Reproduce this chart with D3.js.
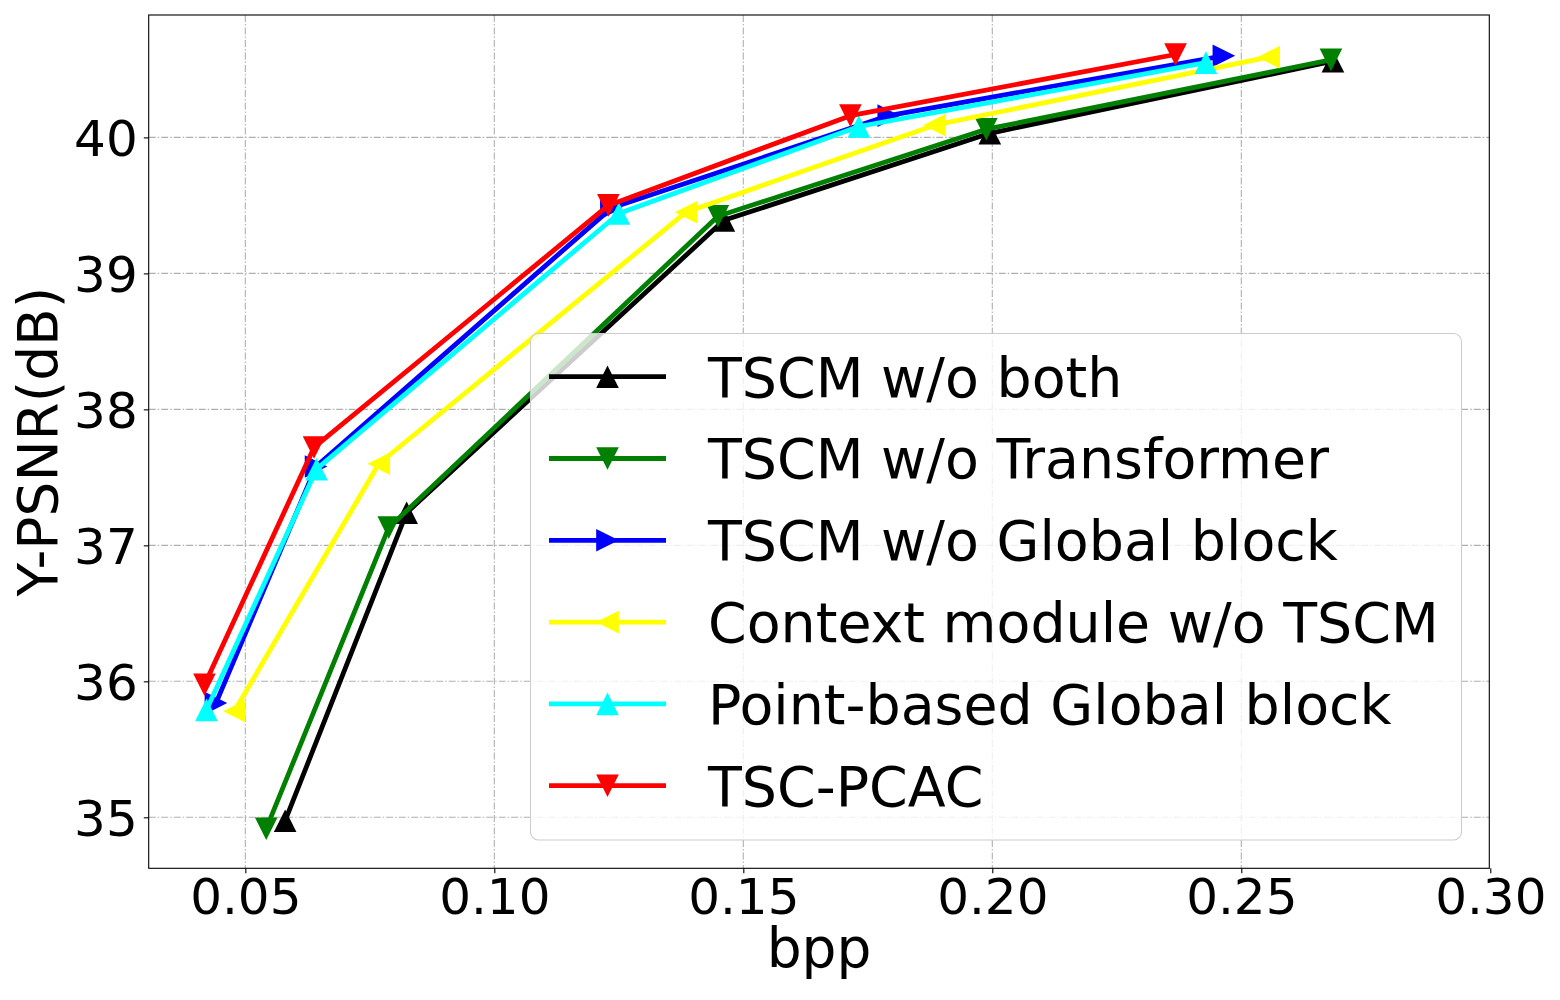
<!DOCTYPE html>
<html>
<head>
<meta charset="utf-8">
<script src="https://cdn.jsdelivr.net/npm/d3@7"></script>
<style>
  html, body { margin: 0; padding: 0; background: #fff; }
  svg { display: block; font-family: "DejaVu Sans", sans-serif; }
</style>
</head>
<body>
<svg id="chart" width="1560" height="1000"></svg>
<script>
// ---- data ----
const seriesNames = ["TSCM w/o both", "TSCM w/o Transformer", "TSCM w/o Global block",
                     "Context module w/o TSCM", "Point-based Global block", "TSC-PCAC"];
const seriesColors = ["#000000", "#008000", "#0000ff", "#ffff00", "#00ffff", "#ff0000"];
const seriesMarkers = ["up", "down", "right", "left", "up", "down"];

const bppBoth        = [0.0580, 0.0824, 0.1461, 0.1995, 0.2684];
const psnrBoth       = [34.975, 37.24, 39.39, 40.03, 40.56];
const bppNoTrans     = [0.0542, 0.0788, 0.1449, 0.1988, 0.2680];
const psnrNoTrans    = [34.916, 37.13, 39.42, 40.06, 40.57];
const bppNoGlobal    = [0.0441, 0.0642, 0.1235, 0.1792, 0.2465];
const psnrNoGlobal   = [35.84, 37.58, 39.48, 40.16, 40.60];
const bppContext     = [0.0478, 0.0768, 0.1385, 0.1884, 0.2555];
const psnrContext    = [35.78, 37.60, 39.45, 40.09, 40.59];
const bppPoint       = [0.0422, 0.0643, 0.1250, 0.1732, 0.2429];
const psnrPoint      = [35.79, 37.56, 39.44, 40.08, 40.55];
const bppTSC         = [0.0418, 0.0638, 0.1229, 0.1715, 0.2368];
const psnrTSC        = [35.975, 37.72, 39.50, 40.16, 40.61];

const xTicks = [0.05, 0.10, 0.15, 0.20, 0.25, 0.30];
const yTicks = [35, 36, 37, 38, 39, 40];
const xLabel = "bpp";
const yLabel = "Y-PSNR(dB)";

const seriesX = [bppBoth, bppNoTrans, bppNoGlobal, bppContext, bppPoint, bppTSC];
const seriesY = [psnrBoth, psnrNoTrans, psnrNoGlobal, psnrContext, psnrPoint, psnrTSC];

// ---- layout ----
const svg = d3.select("#chart");
const L = 148.7, R = 1489.3, T = 15, B = 868.3;
const x = d3.scaleLinear().domain([0.0306, 0.2998]).range([L, R]);
const y = d3.scaleLinear().domain([34.625, 40.9]).range([B, T]);

const tickFont = 50, labelFont = 55, legendFont = 55.4;
const lw = 4.8;

// grid
const grid = svg.append("g");
grid.selectAll("line.gx").data(xTicks.filter(d => x(d) < R)).enter().append("line")
  .attr("x1", d => x(d)).attr("x2", d => x(d)).attr("y1", T).attr("y2", B)
  .attr("stroke", "#b0b0b0").attr("stroke-width", 1.1).attr("stroke-dasharray", "7,2,1.5,2");
grid.selectAll("line.gy").data(yTicks).enter().append("line")
  .attr("x1", L).attr("x2", R).attr("y1", d => y(d)).attr("y2", d => y(d))
  .attr("stroke", "#b0b0b0").attr("stroke-width", 1.1).attr("stroke-dasharray", "7,2,1.5,2");

// marker path
function markerPath(type, s) {
  switch (type) {
    case "up":    return `M0,${-s}L${s},${s}L${-s},${s}Z`;
    case "down":  return `M0,${s}L${s},${-s}L${-s},${-s}Z`;
    case "right": return `M${s},0L${-s},${s}L${-s},${-s}Z`;
    case "left":  return `M${-s},0L${s},${s}L${s},${-s}Z`;
  }
}
const ms = 11.3;

// series
const lineGen = d3.line().x(d => x(d[0])).y(d => y(d[1]));
seriesNames.forEach((name, i) => {
  const pts = seriesX[i].map((v, j) => [v, seriesY[i][j]]);
  const g = svg.append("g");
  g.append("path").datum(pts).attr("d", lineGen)
    .attr("fill", "none").attr("stroke", seriesColors[i]).attr("stroke-width", lw)
    .attr("stroke-linejoin", "round").attr("stroke-linecap", "square");
  g.selectAll("path.m").data(pts).enter().append("path")
    .attr("transform", d => `translate(${x(d[0])},${y(d[1])})`)
    .attr("d", markerPath(seriesMarkers[i], ms))
    .attr("fill", seriesColors[i]);
});

// axes frame
svg.append("rect").attr("x", L).attr("y", T).attr("width", R - L).attr("height", B - T)
  .attr("fill", "none").attr("stroke", "#000").attr("stroke-width", 1.1);

const xAxis = d3.axisBottom(x).tickValues(xTicks).tickFormat(d3.format(".2f")).tickSize(4.9).tickPadding(4.9);
const gx = svg.append("g").attr("transform", `translate(0,${B})`).call(xAxis);
gx.select(".domain").remove();
gx.selectAll("text").attr("font-size", tickFont).attr("font-family", "DejaVu Sans").attr("fill", "#000")
  .attr("dy", null).attr("y", 46.2);
gx.selectAll("line").attr("stroke-width", 1.1);

const yAxis = d3.axisLeft(y).tickValues(yTicks).tickFormat(d3.format("d")).tickSize(4.9).tickPadding(4.9);
const gy = svg.append("g").attr("transform", `translate(${L},0)`).call(yAxis);
gy.select(".domain").remove();
gy.selectAll("text").attr("font-size", tickFont).attr("font-family", "DejaVu Sans").attr("fill", "#000")
  .attr("dy", "0.36em").attr("x", -11);
gy.selectAll("line").attr("stroke-width", 1.1);

// axis labels
svg.append("text").attr("x", (L + R) / 2).attr("y", 967).attr("text-anchor", "middle")
  .attr("font-size", labelFont).text(xLabel);
svg.append("text").attr("transform", `translate(57,${(T + B) / 2}) rotate(-90)`)
  .attr("text-anchor", "middle").attr("font-size", labelFont).text(yLabel);

// legend
const lg = svg.append("g");
lg.append("rect").attr("x", 530.5).attr("y", 333.5).attr("width", 931).attr("height", 506.5)
  .attr("rx", 8).attr("ry", 8)
  .attr("fill", "#fff").attr("fill-opacity", 0.8).attr("stroke", "#cccccc").attr("stroke-width", 1.1);
seriesNames.forEach((name, i) => {
  const cy = 376.7 + i * 81.8;
  lg.append("line").attr("x1", 549).attr("x2", 666).attr("y1", cy).attr("y2", cy)
    .attr("stroke", seriesColors[i]).attr("stroke-width", lw);
  lg.append("path").attr("transform", `translate(607.5,${cy})`)
    .attr("d", markerPath(seriesMarkers[i], ms)).attr("fill", seriesColors[i]);
  lg.append("text").attr("x", 708).attr("y", cy).attr("dy", "0.36em")
    .attr("font-size", legendFont).attr("fill", "#000").text(name);
});
</script>
</body>
</html>
